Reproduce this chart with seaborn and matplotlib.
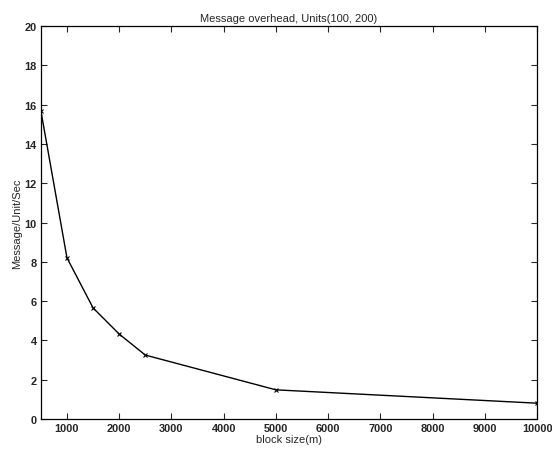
import matplotlib
matplotlib.use("Agg")
import matplotlib.pyplot as plt
import seaborn as sns
import pandas as pd

block_size = [500, 1000, 1500, 2000, 2500, 5000, 10000]
msg_rate = [15.7, 8.2, 5.65, 4.32, 3.25, 1.48, 0.8]
x_ticks = [1000, 2000, 3000, 4000, 5000, 6000, 7000, 8000, 9000, 10000]
y_ticks = [0, 2, 4, 6, 8, 10, 12, 14, 16, 18, 20]

sns.set_style("white")
plt.rcParams['font.family'] = ['Liberation Sans', 'DejaVu Sans']

df = pd.DataFrame({"block": block_size, "rate": msg_rate})
fig = plt.figure(figsize=(5.52, 4.52), dpi=100)
ax = fig.add_axes([0.074, 0.071, 0.899, 0.869])
sns.lineplot(data=df, x="block", y="rate", ax=ax, color="black", linewidth=1.0,
             marker="x", markersize=3.5, markeredgecolor="black", markeredgewidth=0.8)
ax.set_xlim(500, 10000)
ax.set_ylim(0, 20)
ax.set_xticks(x_ticks)
ax.set_yticks(y_ticks)
ax.tick_params(direction="in", length=4, width=0.8, labelsize=7.9, top=True, right=True,
               bottom=True, left=True, pad=3)
for lbl in ax.get_xticklabels() + ax.get_yticklabels():
    lbl.set_fontweight("bold")
for s in ax.spines.values():
    s.set_color("black")
    s.set_linewidth(0.9)
ax.set_xlabel("block size(m)", fontsize=8, labelpad=1)
ax.set_ylabel("Message/Unit/Sec", fontsize=8, labelpad=2)
ax.set_title("Message overhead, Units(100, 200)", fontsize=8, pad=4)
fig.savefig("out.png", dpi=100)
